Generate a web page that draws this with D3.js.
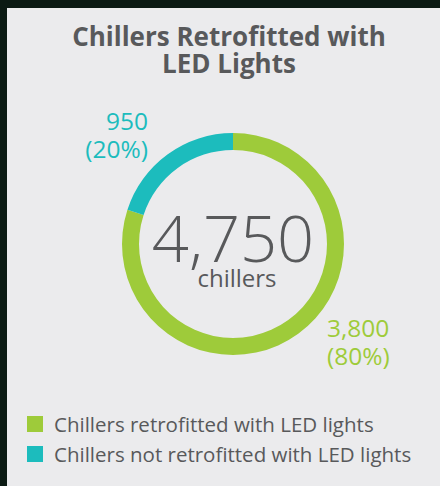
<!DOCTYPE html>
<html lang="en">
<head>
<meta charset="utf-8">
<script src="https://d3js.org/d3.v7.min.js"></script>
<style>
  body { margin: 0; background: #0b1a13; }
  text { font-family: "Open Sans", sans-serif; }
</style>
</head>
<body>
<div id="graph"></div>
<script>

// data
var categories = ["Chillers retrofitted with LED lights", "Chillers not retrofitted with LED lights"];
var values = [3800, 950];
var colors = ["#9ecb3a", "#1cbcbd"];
var titleLines = ["Chillers Retrofitted with", "LED Lights"];
var unitLabel = "chillers";

var width = 440, height = 486;
var total = d3.sum(values);
var fmt = d3.format(",");

var svg = d3.select("#graph")
  .append("svg")
    .attr("width", width)
    .attr("height", height);

// light panel
svg.append("rect")
  .attr("x", 7).attr("y", 8)
  .attr("width", width - 7).attr("height", height - 8)
  .attr("fill", "#ebebed");

// title
svg.append("text")
  .attr("text-anchor", "middle")
  .attr("fill", "#58595b")
  .style("font-weight", "bold")
  .style("font-size", "26px")
  .selectAll("tspan")
  .data(titleLines)
  .enter()
  .append("tspan")
    .attr("x", 229)
    .attr("y", function (d, i) { return 46 + i * 27; })
    .text(function (d) { return d; });

// donut
var cx = 233, cy = 244;
var outerR = 111, innerR = 94;

var pie = d3.pie()
  .sort(null)
  .value(function (d) { return d; });

// green goes clockwise from the top, teal fills the rest
var arcs = pie(values);

var arc = d3.arc()
  .innerRadius(innerR)
  .outerRadius(outerR);

var g = svg.append("g")
  .attr("transform", "translate(" + cx + "," + cy + ")");

g.selectAll("path")
  .data(arcs)
  .enter()
  .append("path")
    .attr("d", arc)
    .attr("fill", function (d, i) { return colors[i]; });

// centre total
g.append("text")
  .attr("text-anchor", "middle")
  .attr("x", 0)
  .attr("y", 18)
  .attr("fill", "#58595b")
  .style("font-size", "65px")
  .style("font-weight", 300)
  .text(fmt(total));

g.append("text")
  .attr("text-anchor", "middle")
  .attr("x", 4)
  .attr("y", 43)
  .attr("fill", "#58595b")
  .style("font-size", "24px")
  .text(unitLabel);

// value labels
var labelPos = [
  {x: 327, y: 337, anchor: "start"},
  {x: 148, y: 130, anchor: "end"}
];

svg.selectAll(".vlabel")
  .data(values)
  .enter()
  .append("text")
    .attr("class", "vlabel")
    .attr("text-anchor", function (d, i) { return labelPos[i].anchor; })
    .attr("fill", function (d, i) { return colors[i]; })
    .style("font-size", "24.5px")
    .each(function (d, i) {
      var t = d3.select(this);
      t.append("tspan")
        .attr("x", labelPos[i].x)
        .attr("y", labelPos[i].y)
        .text(fmt(d));
      t.append("tspan")
        .attr("x", labelPos[i].x)
        .attr("y", labelPos[i].y + 28)
        .text("(" + Math.round(d / total * 100) + "%)");
    });

// legend
var legend = svg.selectAll(".legend")
  .data(categories)
  .enter()
  .append("g")
    .attr("class", "legend")
    .attr("transform", function (d, i) { return "translate(27," + (416 + i * 30) + ")"; });

legend.append("rect")
  .attr("width", 16)
  .attr("height", 16)
  .attr("fill", function (d, i) { return colors[i]; });

legend.append("text")
  .attr("x", 27)
  .attr("y", 16)
  .attr("fill", "#58595b")
  .style("font-size", "20.5px")
  .text(function (d) { return d; });

</script>
</body>
</html>
